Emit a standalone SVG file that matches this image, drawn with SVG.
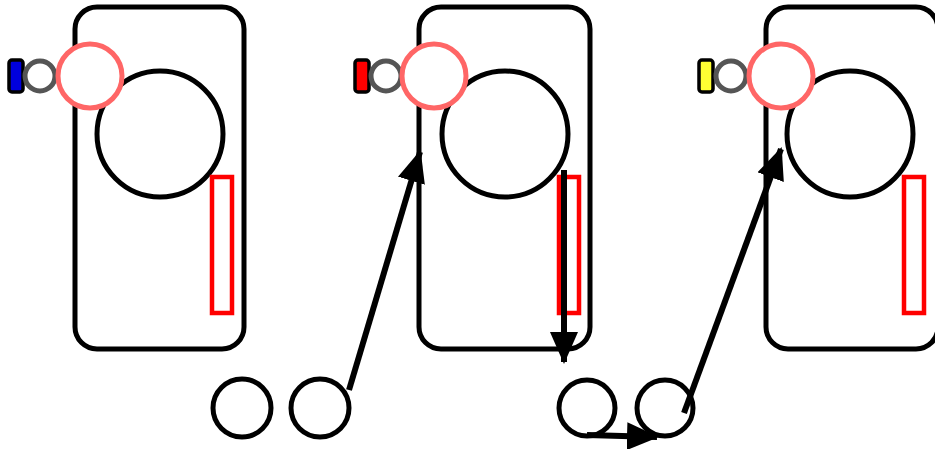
<svg xmlns="http://www.w3.org/2000/svg" width="935" height="449" viewBox="0 0 935 449">
<defs>
<style>
.frame{fill:none;stroke:#000;stroke-width:5}
.big{fill:#fff;stroke:#000;stroke-width:5}
.pink{fill:#fff;stroke:#ff6666;stroke-width:5}
.gray{fill:#fff;stroke:#555;stroke-width:5}
.slot{fill:none;stroke:#ff0000;stroke-width:4.5}
.tab{stroke:#000;stroke-width:3.5}
.small{fill:#fff;stroke:#000;stroke-width:5}
.conn{fill:none;stroke:#000;stroke-width:6;marker-end:url(#ah)}
</style>
<marker id="ah" viewBox="0 0 32 28" refX="30" refY="14" markerWidth="32" markerHeight="28" markerUnits="userSpaceOnUse" orient="auto">
<path d="M0,0 L32,14 L0,28 z" fill="#000"/>
</marker>
</defs>
<g id="panel1">
<rect class="frame" x="75" y="7" width="169" height="342" rx="22"/>
<circle class="big" cx="160" cy="134" r="63"/>
<rect class="slot" x="212" y="177" width="20" height="136"/>
<rect class="tab" x="9" y="60" width="14" height="32" rx="3" fill="#0000dd"/>
<circle class="gray" cx="40" cy="76" r="15"/>
<circle class="pink" cx="90" cy="76" r="32"/>
</g>
<g id="panel2">
<rect class="frame" x="419" y="7" width="171" height="342" rx="22"/>
<circle class="big" cx="505" cy="134" r="63"/>
<rect class="slot" x="559" y="177" width="20" height="136"/>
<rect class="tab" x="355" y="60" width="14" height="32" rx="3" fill="#ff0000"/>
<circle class="gray" cx="386" cy="76" r="15"/>
<circle class="pink" cx="434" cy="76" r="32"/>
</g>
<g id="panel3">
<rect class="frame" x="766" y="7" width="172" height="342" rx="22"/>
<circle class="big" cx="850" cy="134" r="63"/>
<rect class="slot" x="904" y="177" width="20" height="136"/>
<rect class="tab" x="699" y="60" width="14" height="32" rx="3" fill="#ffff33"/>
<circle class="gray" cx="731" cy="76" r="15"/>
<circle class="pink" cx="781" cy="76" r="32"/>
</g>
<g id="c1"><circle class="small" cx="242" cy="408" r="29"/></g>
<g id="c2"><circle class="small" cx="320" cy="408" r="29"/></g>
<g id="c3"><circle class="small" cx="587" cy="408" r="28"/></g>
<g id="c4"><circle class="small" cx="665" cy="408" r="28"/></g>
<g id="connectors">
<line class="conn" x1="349" y1="390" x2="420" y2="152"/>
<line class="conn" x1="564" y1="170" x2="564" y2="362"/>
<line class="conn" x1="587" y1="435" x2="657" y2="437"/>
<line class="conn" x1="684" y1="413" x2="781" y2="149"/>
</g>
</svg>
